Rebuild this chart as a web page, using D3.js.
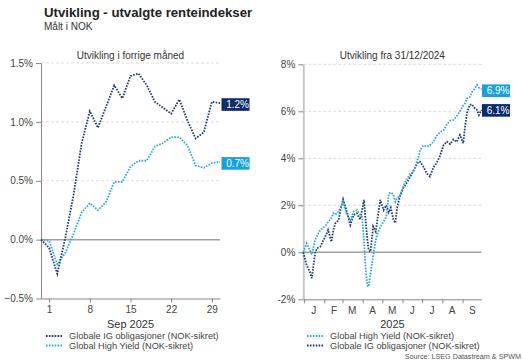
<!DOCTYPE html>
<html>
<head>
<meta charset="utf-8">
<script src="https://cdn.jsdelivr.net/npm/d3@7"></script>
<style>
body { margin: 0; background: #fff; }
svg { display: block; font-family: 'Liberation Sans', Arial, sans-serif; }
</style>
</head>
<body>
<script>
// forrige maaned (handelsdager)
var monthDates = ['2025-08-29', '2025-09-01', '2025-09-02', '2025-09-03', '2025-09-04', '2025-09-05',
  '2025-09-08', '2025-09-09', '2025-09-10', '2025-09-11', '2025-09-12',
  '2025-09-15', '2025-09-16', '2025-09-17', '2025-09-18', '2025-09-19',
  '2025-09-22', '2025-09-23', '2025-09-24', '2025-09-25', '2025-09-26',
  '2025-09-29', '2025-09-30']
var igMonth = [0, -0.07, -0.29, 0.02, 0.38, 0.82, 1.09, 0.95, 1.13, 1.31, 1.2, 1.39, 1.41, 1.31, 1.17, 1.12, 1.07, 1.19, 1.01, 0.86, 0.91, 1.17, 1.16]
var hyMonth = [0, -0.01, -0.21, -0.11, 0.05, 0.23, 0.31, 0.25, 0.32, 0.49, 0.49, 0.62, 0.67, 0.67, 0.79, 0.82, 0.87, 0.87, 0.8, 0.63, 0.61, 0.65, 0.66]
var monthTickDates = ['2025-09-01', '2025-09-08', '2025-09-15', '2025-09-22', '2025-09-29']
var monthTickLabels = ['1', '8', '15', '22', '29']
var monthYTicks = [-0.5, 0, 0.5, 1, 1.5]

// hittil i aar
var ytdDates = ['2024-12-31', '2025-01-05', '2025-01-10', '2025-01-13', '2025-01-18', '2025-01-21', '2025-01-26', '2025-01-31',
  '2025-02-04', '2025-02-07', '2025-02-12', '2025-02-15', '2025-02-18', '2025-02-23', '2025-02-26',
  '2025-03-02', '2025-03-07', '2025-03-13', '2025-03-18', '2025-03-23', '2025-03-28', '2025-03-31',
  '2025-04-03', '2025-04-05', '2025-04-08', '2025-04-10', '2025-04-13', '2025-04-17', '2025-04-21', '2025-04-24', '2025-04-28',
  '2025-05-03', '2025-05-07', '2025-05-11', '2025-05-14', '2025-05-18', '2025-05-21', '2025-05-24', '2025-05-28',
  '2025-06-02', '2025-06-07', '2025-06-13', '2025-06-18', '2025-06-23', '2025-06-26', '2025-06-28',
  '2025-07-03', '2025-07-08', '2025-07-13', '2025-07-18', '2025-07-23', '2025-07-28',
  '2025-08-03', '2025-08-08', '2025-08-13', '2025-08-18', '2025-08-23', '2025-08-28',
  '2025-09-02', '2025-09-05', '2025-09-08', '2025-09-12', '2025-09-15', '2025-09-19', '2025-09-23', '2025-09-26', '2025-09-30']
var hyYtd = [0, 0.38, 0.1, -0.1, 0.52, 0.7, 0.95, 1.05,
  1.16, 1.3, 1.45, 1.66, 1.6, 1.73, 1.9,
  2.15, 1.66, 1.37, 1.73, 1.8, 1.6, 1.5,
  0.45, -0.5, -1.4, -1.46, -0.89, -0.15, 0.52, 0.8, 1.09,
  1.3, 1.5, 2.5, 2.55, 2.45, 2.15, 2.3, 2.4,
  2.79, 3.1, 3.35, 3.43, 3.86, 4.1, 4.35,
  4.55, 4.5, 4.55, 4.7, 4.95, 5.1,
  5.2, 5.45, 5.6, 5.63, 5.8, 6.0,
  6.25, 6.35, 6.55, 6.6, 6.8, 6.95, 7.12, 7.0, 6.94]
var igYtd = [0, -0.54, -0.82, -1.1, -0.04, 0.17, 0.24, 0.52,
  0.75, 0.95, 0.45, 0.95, 1.23, 1.37, 1.8,
  2.25, 1.8, 1.16, 1.59, 1.66, 1.4, 1.8,
  2.23, 1.5, 0.6, 0.1, 0.03, 1.1, 0.88, 1.5, 2.23,
  1.8, 2.0, 1.7, 1.9, 1.4, 1.25, 1.94, 2.37,
  2.72, 2.94, 3.22, 3.5, 3.75, 3.86, 3.85,
  3.64, 3.36, 3.22, 3.6, 3.8, 4.07,
  4.57, 4.71, 4.6, 4.8, 4.7, 4.99,
  4.64, 5.4, 5.95, 6.27, 6.3, 6.15, 6.06, 5.84, 6.06]
var ytdMonthLabels = ['J', 'F', 'M', 'A', 'M', 'J', 'J', 'A', 'S']
var ytdYTicks = [-2, 0, 2, 4, 6, 8]

var navy = '#1d3978'
var navyBox = '#0c2c6c'
var sky = '#2aa8e3'
var skyBox = '#17a2de'
var parse = d3.timeParse('%Y-%m-%d')

var svg = d3.select('body').append('svg')
.attr('width', 523)
.attr('height', 363)

svg.append('text')
.attr('x', 44).attr('y', 17)
.attr('font-size', 13.2).attr('font-weight', 'bold').attr('fill', '#222')
.text('Utvikling - utvalgte renteindekser')

svg.append('text')
.attr('x', 44).attr('y', 30)
.attr('font-size', 10).attr('fill', '#333')
.text('Målt i NOK')

function dotted (sel, color) {
  sel.attr('fill', 'none')
  .attr('stroke', color)
  .attr('stroke-width', 1.8)
  .attr('stroke-dasharray', '1.6,1.3')
}

function styleAxis (g) {
  g.selectAll('text').attr('fill', '#444').attr('font-size', 10).attr('font-family', 'Liberation Sans, Arial, sans-serif')
  g.selectAll('line').attr('stroke', '#888')
  g.select('.domain').attr('stroke', '#888')
}

function endLabel (g, xPos, yPos, color, txt) {
  g.append('rect')
  .attr('x', xPos).attr('y', yPos - 6.3)
  .attr('width', 28).attr('height', 12.6)
  .attr('fill', color)
  g.append('text')
  .attr('x', xPos + 27.5).attr('y', yPos + 3.6)
  .attr('text-anchor', 'end')
  .attr('font-size', 10).attr('fill', '#fff')
  .text(txt)
}

function legend (g, x0, y0, rows) {
  rows.forEach(function (r, i) {
    var yy = y0 + i * 9.5
    g.append('line')
    .attr('x1', x0).attr('x2', x0 + 17)
    .attr('y1', yy - 3).attr('y2', yy - 3)
    .call(dotted, r.color)
    g.append('text')
    .attr('x', x0 + 23).attr('y', yy)
    .attr('font-size', 9.2).attr('fill', '#444')
    .text(r.name)
  })
}

// ---- venstre panel: forrige maaned
var left = {x0: 41, x1: 220, y0: 63, y1: 298.5}
var xL = d3.scaleLinear().domain([0, monthDates.length - 1]).range([left.x0, left.x1])
var yL = d3.scaleLinear().domain([-0.5, 1.5]).range([left.y1, left.y0])
var gL = svg.append('g')

gL.append('text')
.attr('x', (left.x0 + left.x1) / 2).attr('y', 59)
.attr('text-anchor', 'middle').attr('font-size', 10).attr('fill', '#333')
.text('Utvikling i forrige måned')

gL.selectAll('line.grid')
.data(monthYTicks.filter(function (d) { return d > 0 }))
.enter().append('line')
.attr('class', 'grid')
.attr('x1', left.x0).attr('x2', left.x1)
.attr('y1', yL).attr('y2', yL)
.attr('stroke', '#dcdcdc').attr('stroke-dasharray', '3,2')

gL.append('line')
.attr('x1', left.x0).attr('x2', left.x1)
.attr('y1', yL(0)).attr('y2', yL(0))
.attr('stroke', '#a0a0a0').attr('stroke-width', 1.5)

gL.append('g')
.attr('transform', 'translate(' + left.x0 + ',0)')
.call(d3.axisLeft(yL).tickValues(monthYTicks).tickSize(5).tickSizeOuter(0)
  .tickFormat(function (d) { return d3.format('.1f')(d) + '%' }))
.call(styleAxis)

var monthTickIdx = monthTickDates.map(function (d) { return monthDates.indexOf(d) })
gL.append('g')
.attr('transform', 'translate(0,' + left.y1 + ')')
.call(d3.axisBottom(xL).tickValues(monthTickIdx).tickSize(4).tickSizeOuter(0)
  .tickFormat(function (d, i) { return monthTickLabels[i] }))
.call(styleAxis)

gL.append('text')
.attr('x', (left.x0 + left.x1) / 2).attr('y', 328)
.attr('text-anchor', 'middle').attr('font-size', 11).attr('fill', '#333')
.text('Sep 2025')

var lineL = d3.line().x(function (d, i) { return xL(i) }).y(function (d) { return yL(d) })
gL.append('path').attr('d', lineL(hyMonth)).call(dotted, sky)
gL.append('path').attr('d', lineL(igMonth)).call(dotted, navy)

endLabel(gL, left.x1 + 1.5, yL(igMonth[igMonth.length - 1]) + 1.5, navyBox, d3.format('.1f')(igMonth[igMonth.length - 1]) + '%')
endLabel(gL, left.x1 + 1.5, yL(hyMonth[hyMonth.length - 1]) + 1.5, skyBox, d3.format('.1f')(hyMonth[hyMonth.length - 1]) + '%')

legend(gL, 46, 339, [
  {name: 'Globale IG obligasjoner (NOK-sikret)', color: navy},
  {name: 'Global High Yield (NOK-sikret)', color: sky}
])

// ---- hoyre panel: hittil i aar
var right = {x0: 303.3, x1: 481.5, y0: 64.3, y1: 299.3}
var dates = ytdDates.map(parse)
var xR = d3.scaleTime().domain([dates[0], dates[dates.length - 1]]).range([right.x0, right.x1])
var yR = d3.scaleLinear().domain([-2, 8]).range([right.y1, right.y0])
var gR = svg.append('g')

gR.append('text')
.attr('x', (right.x0 + right.x1) / 2).attr('y', 59)
.attr('text-anchor', 'middle').attr('font-size', 10).attr('fill', '#333')
.text('Utvikling fra 31/12/2024')

gR.selectAll('line.grid')
.data(ytdYTicks.filter(function (d) { return d > 0 }))
.enter().append('line')
.attr('class', 'grid')
.attr('x1', right.x0).attr('x2', right.x1)
.attr('y1', yR).attr('y2', yR)
.attr('stroke', '#dcdcdc').attr('stroke-dasharray', '3,2')

gR.append('line')
.attr('x1', right.x0).attr('x2', right.x1)
.attr('y1', yR(0)).attr('y2', yR(0))
.attr('stroke', '#a0a0a0').attr('stroke-width', 1.5)

var yAxR = gR.append('g')
.attr('transform', 'translate(' + right.x0 + ',0)')
.call(d3.axisLeft(yR).tickValues(ytdYTicks).tickSize(5).tickSizeOuter(0)
  .tickFormat(function (d) { return d + '%' }))
.call(styleAxis)
yAxR.select('.domain').attr('stroke', '#c8c8c8').attr('stroke-width', 2)

var monthStarts = d3.timeMonth.range(parse('2025-01-01'), parse('2025-10-01'))
gR.append('g')
.attr('transform', 'translate(0,' + right.y1 + ')')
.call(d3.axisBottom(xR).tickValues(monthStarts).tickSize(4).tickSizeOuter(0).tickFormat(''))
.call(styleAxis)

gR.selectAll('text.mlab')
.data(monthStarts)
.enter().append('text')
.attr('class', 'mlab')
.attr('x', function (d) { return xR(d3.timeDay.offset(d, 15)) })
.attr('y', 314)
.attr('text-anchor', 'middle').attr('font-size', 10).attr('fill', '#444')
.text(function (d, i) { return ytdMonthLabels[i] })

gR.append('text')
.attr('x', (right.x0 + right.x1) / 2).attr('y', 328)
.attr('text-anchor', 'middle').attr('font-size', 11).attr('fill', '#333')
.text('2025')

var lineR = d3.line().x(function (d, i) { return xR(dates[i]) }).y(function (d) { return yR(d) })
gR.append('path').attr('d', lineR(igYtd)).call(dotted, navy)
gR.append('path').attr('d', lineR(hyYtd)).call(dotted, sky)

endLabel(gR, right.x1 + 0.5, yR(hyYtd[hyYtd.length - 1]) + 1.5, skyBox, d3.format('.1f')(hyYtd[hyYtd.length - 1]) + '%')
endLabel(gR, right.x1 + 0.5, yR(igYtd[igYtd.length - 1]) + 0.5, navyBox, d3.format('.1f')(igYtd[igYtd.length - 1]) + '%')

legend(gR, 307, 339, [
  {name: 'Global High Yield (NOK-sikret)', color: sky},
  {name: 'Globale IG obligasjoner (NOK-sikret)', color: navy}
])

svg.append('text')
.attr('x', 521).attr('y', 359)
.attr('text-anchor', 'end').attr('font-size', 7.2).attr('fill', '#555')
.text('Source: LSEG Datastream & SPWM')
</script>
</body>
</html>
